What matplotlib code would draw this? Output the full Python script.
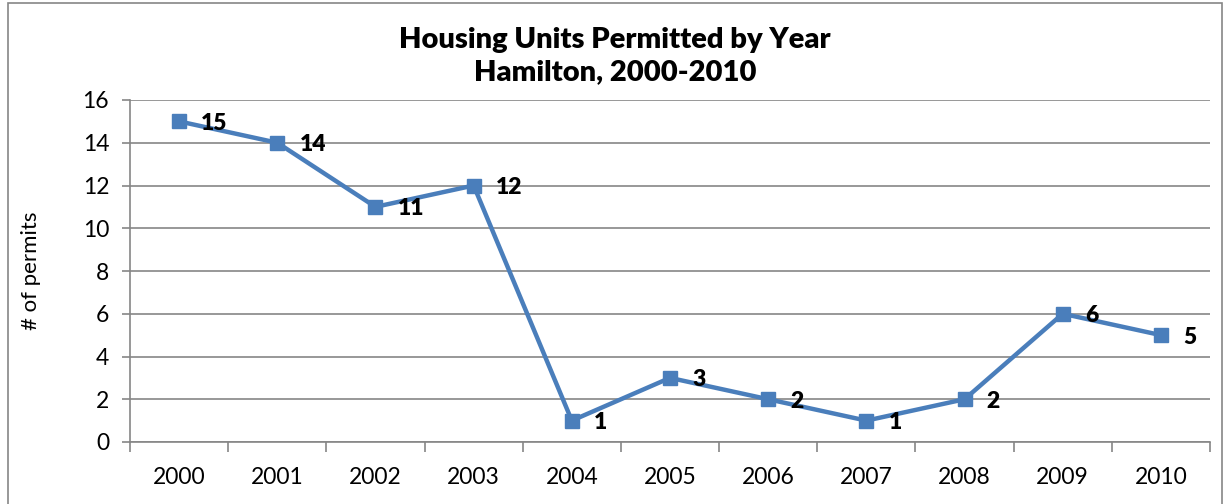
import matplotlib

matplotlib.use("Agg")
import matplotlib.pyplot as plt
from matplotlib.patches import Rectangle

plt.rcParams["font.family"] = ["Lato", "DejaVu Sans"]

years = ["2000", "2001", "2002", "2003", "2004", "2005",
         "2006", "2007", "2008", "2009", "2010"]
permits = [15, 14, 11, 12, 1, 3, 2, 1, 2, 6, 5]

grid_c = "#868686"
line_c = "#4A7EBB"

fig = plt.figure(figsize=(12.3, 5.04), dpi=100)
fig.patches.append(Rectangle((8 / 1230, -0.01), 1214 / 1230, 1 - 3 / 504 + 0.01,
                             transform=fig.transFigure, fill=False,
                             edgecolor=grid_c, linewidth=1.2))
ax = fig.add_axes([130 / 1230, 1 - 442 / 504, 1080 / 1230, 342 / 504])

x = list(range(len(years)))
ax.plot(x, permits, color=line_c, linewidth=3.2, marker="s", markersize=10.5,
        markerfacecolor=line_c, markeredgecolor=line_c, zorder=3, clip_on=False)
for xi, v in zip(x, permits):
    ax.annotate(str(v), (xi, v), xytext=(16, -1.5), textcoords="offset points",
                ha="left", va="center", fontsize=16.5, fontweight="heavy")

ax.set_xlim(-0.5, len(years) - 0.5)
ax.set_ylim(0, 16)
ax.set_yticks(range(0, 17, 2))
ax.set_xticks(x)
ax.set_xticklabels(years)
ax.set_xticks([i - 0.5 for i in range(len(years) + 1)], minor=True)
ax.tick_params(axis="x", which="major", length=0, pad=18, labelsize=16.5)
ax.tick_params(axis="x", which="minor", length=7, color=grid_c, width=1.2)
ax.tick_params(axis="y", length=6, color=grid_c, width=1.2, labelsize=16.5, pad=9)
ax.yaxis.grid(True, color=grid_c, linewidth=1.2)
ax.set_axisbelow(True)
for s in ["top", "right"]:
    ax.spines[s].set_visible(False)
for s in ["left", "bottom"]:
    ax.spines[s].set_color(grid_c)
    ax.spines[s].set_linewidth(1.2)

ax.set_ylabel("# of permits", fontsize=16, labelpad=30)
fig.text(0.5, 1 - 56 / 504, "Housing Units Permitted by Year\nHamilton, 2000-2010",
         ha="center", va="center", fontsize=21, fontweight="heavy", linespacing=1.25)

fig.savefig("out.png", dpi=100)
